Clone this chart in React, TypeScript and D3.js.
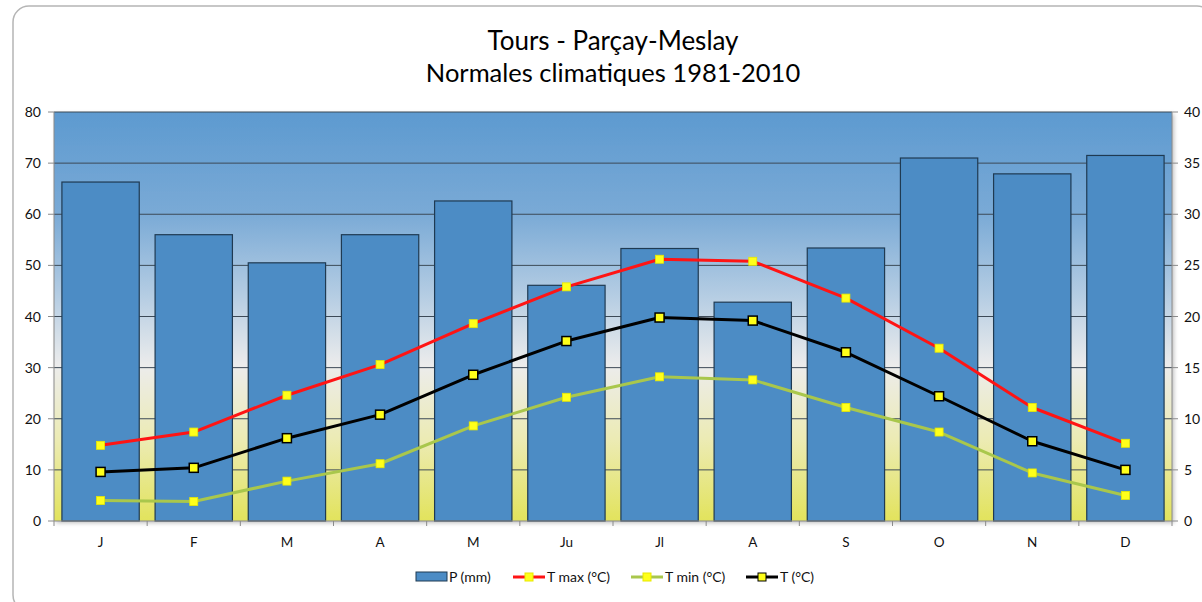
import * as d3 from 'd3';

// Monthly normals, Tours - Parçay-Meslay 1981-2010
const months = ['J', 'F', 'M', 'A', 'M', 'Ju', 'Jl', 'A', 'S', 'O', 'N', 'D'];
const precip = [66.3, 56.0, 50.5, 56.0, 62.6, 46.1, 53.3, 42.8, 53.4, 71.0, 67.9, 71.5];
const tMax = [7.4, 8.7, 12.3, 15.3, 19.3, 22.9, 25.6, 25.4, 21.8, 16.9, 11.1, 7.6];
const tMin = [2.0, 1.9, 3.9, 5.6, 9.3, 12.1, 14.1, 13.8, 11.1, 8.7, 4.7, 2.5];
const tMean = [4.8, 5.2, 8.1, 10.4, 14.3, 17.6, 19.9, 19.6, 16.5, 12.2, 7.8, 5.0];
const leftTicks = [0, 10, 20, 30, 40, 50, 60, 70, 80];
const rightTicks = [0, 5, 10, 15, 20, 25, 30, 35, 40];

const W = 1202;
const H = 602;
const m = { left: 54, right: 1172, top: 112, bottom: 521 };
const font = 'Lato, "Open Sans", sans-serif';

const tempSeries = [
  { key: 'T max (°C)', values: tMax, color: '#ff1414', mStroke: '#e8e800', size: 8 },
  { key: 'T min (°C)', values: tMin, color: '#a9c74c', mStroke: '#e8e800', size: 8 },
  { key: 'T (°C)', values: tMean, color: '#000000', mStroke: '#000000', size: 9 },
];

export default function App() {
  const idx = months.map((_, i) => i);
  const x = d3.scaleBand<number>().domain(idx).range([m.left, m.right]).paddingInner(0.17).paddingOuter(0.085);
  const xb = d3.scaleBand<number>().domain(idx).range([m.left, m.right]);
  const yP = d3.scaleLinear().domain([0, 80]).range([m.bottom, m.top]);
  const yT = d3.scaleLinear().domain([0, 40]).range([m.bottom, m.top]);
  const cx = (i: number) => (xb(i) ?? 0) + xb.bandwidth() / 2;

  const line = (vals: number[]) =>
    d3.line<number>().x((_, i) => cx(i)).y((d) => yT(d))(vals) ?? '';

  const legendItems = [
    { x: 416, kind: 'bar', label: 'P (mm)' },
    { x: 513, kind: 0, label: 'T max (°C)' },
    { x: 631, kind: 1, label: 'T min (°C)' },
    { x: 746, kind: 2, label: 'T (°C)' },
  ];

  return (
    <svg width={W} height={H} style={{ position: 'absolute', left: 0, top: 0, background: '#fff' }}>
      <defs>
        <linearGradient id="bg" x1="0" y1="0" x2="0" y2="1">
          <stop offset="0" stopColor="#5d9ad0" />
          <stop offset="0.25" stopColor="#7aaad6" />
          <stop offset="0.45" stopColor="#b5cde3" />
          <stop offset="0.62" stopColor="#ececec" />
          <stop offset="0.8" stopColor="#ecebb4" />
          <stop offset="1" stopColor="#e2e35c" />
        </linearGradient>
        <filter id="sh" x="-5%" y="-5%" width="110%" height="110%">
          <feDropShadow dx="2" dy="2" stdDeviation="2" floodColor="#000" floodOpacity="0.25" />
        </filter>
      </defs>
      <rect x={13} y={6} width={1200} height={605} rx={16} fill="#fff" stroke="#b5b5b5" strokeWidth={1.5} />

      <text x={613} y={50} textAnchor="middle" fontFamily={font} fontSize={26} fill="#000">
        Tours - Parçay-Meslay
      </text>
      <text x={613} y={82} textAnchor="middle" fontFamily={font} fontSize={25.5} fill="#000">
        Normales climatiques 1981-2010
      </text>

      {/* plot area */}
      <rect x={m.left} y={m.top} width={m.right - m.left} height={m.bottom - m.top} fill="url(#bg)" filter="url(#sh)" />

      {/* gridlines */}
      {leftTicks.slice(1).map((t) => (
        <line key={t} x1={m.left} x2={m.right} y1={yP(t)} y2={yP(t)} stroke="#3d4a57" strokeWidth={1} />
      ))}

      {/* bars */}
      {precip.map((v, i) => (
        <rect
          key={i}
          x={x(i)}
          y={yP(v)}
          width={x.bandwidth()}
          height={m.bottom - yP(v)}
          fill="#4c8cc5"
          stroke="#1f3a52"
          strokeWidth={1.2}
        />
      ))}

      {/* axes */}
      <line x1={m.left} x2={m.left} y1={m.top} y2={m.bottom} stroke="#8a8a8a" />
      <line x1={m.right} x2={m.right} y1={m.top} y2={m.bottom} stroke="#8a8a8a" />
      <line x1={m.left} x2={m.right} y1={m.bottom} y2={m.bottom} stroke="#8a8a8a" />
      {leftTicks.map((t) => (
        <g key={t}>
          <line x1={m.left - 6} x2={m.left} y1={yP(t)} y2={yP(t)} stroke="#8a8a8a" />
          <text x={m.left - 13} y={yP(t) + 5} textAnchor="end" fontFamily={font} fontSize={14} fill="#111">
            {t}
          </text>
        </g>
      ))}
      {rightTicks.map((t) => (
        <g key={t}>
          <line x1={m.right} x2={m.right + 6} y1={yT(t)} y2={yT(t)} stroke="#8a8a8a" />
          <text x={m.right + 12} y={yT(t) + 5} textAnchor="start" fontFamily={font} fontSize={14} fill="#111">
            {t}
          </text>
        </g>
      ))}
      {idx.map((i) => (
        <line key={i} x1={xb(i)} x2={xb(i)} y1={m.bottom} y2={m.bottom + 5} stroke="#8a8a8a" />
      ))}
      <line x1={m.right} x2={m.right} y1={m.bottom} y2={m.bottom + 5} stroke="#8a8a8a" />
      {months.map((mo, i) => (
        <text key={i} x={cx(i)} y={547} textAnchor="middle" fontFamily={font} fontSize={13.5} fill="#111">
          {mo}
        </text>
      ))}

      {/* temperature lines */}
      {tempSeries.map((s) => (
        <g key={s.key}>
          <path d={line(s.values)} fill="none" stroke={s.color} strokeWidth={3} strokeLinejoin="round" />
          {s.values.map((v, i) => (
            <rect
              key={i}
              x={cx(i) - s.size / 2}
              y={yT(v) - s.size / 2}
              width={s.size}
              height={s.size}
              fill="#ffff1a"
              stroke={s.mStroke}
              strokeWidth={s.key === 'T (°C)' ? 1.5 : 0.8}
            />
          ))}
        </g>
      ))}

      {/* legend */}
      {legendItems.map((it) => (
        <g key={it.label}>
          {it.kind === 'bar' ? (
            <rect x={it.x} y={572} width={31} height={9} fill="#4c8cc5" stroke="#1f3a52" />
          ) : (
            <g>
              <line
                x1={it.x}
                x2={it.x + 32}
                y1={577}
                y2={577}
                stroke={tempSeries[it.kind as number].color}
                strokeWidth={3}
              />
              <rect
                x={it.x + 12}
                y={573}
                width={8}
                height={8}
                fill="#ffff1a"
                stroke={it.kind === 2 ? '#000' : tempSeries[it.kind as number].mStroke}
                strokeWidth={1}
              />
            </g>
          )}
          <text x={it.x + (it.kind === 'bar' ? 33 : 34)} y={582} fontFamily={font} fontSize={14} fill="#111">
            {it.label}
          </text>
        </g>
      ))}
    </svg>
  );
}
